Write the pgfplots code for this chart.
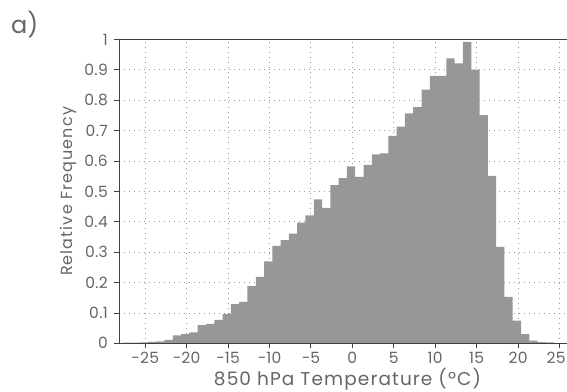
\documentclass[border=0pt]{standalone}
\usepackage{pgfplots}
\pgfplotsset{compat=1.18}
\usepackage{fontspec}
\setmainfont{Poppins}
\definecolor{bargray}{HTML}{979797}
\definecolor{txtgray}{HTML}{666666}
\definecolor{axgray}{HTML}{404040}
\definecolor{gridgray}{HTML}{9A9A9A}
\pgfplotstableread{
x y
-27.65 0.002
-26.65 0.002
-25.65 0.003
-24.65 0.005
-23.65 0.006
-22.65 0.011
-21.65 0.026
-20.65 0.030
-19.65 0.036
-18.65 0.060
-17.65 0.064
-16.65 0.077
-15.65 0.096
-14.65 0.129
-13.65 0.136
-12.65 0.188
-11.65 0.219
-10.65 0.270
-9.65 0.321
-8.65 0.340
-7.65 0.361
-6.65 0.397
-5.65 0.421
-4.65 0.474
-3.65 0.446
-2.65 0.521
-1.65 0.544
-0.65 0.582
0.35 0.548
1.35 0.587
2.35 0.622
3.35 0.625
4.35 0.683
5.35 0.713
6.35 0.757
7.35 0.777
8.35 0.835
9.35 0.880
10.35 0.880
11.35 0.938
12.35 0.921
13.35 0.992
14.35 0.901
15.35 0.751
16.35 0.551
17.35 0.317
18.35 0.153
19.35 0.075
20.35 0.030
21.35 0.009
22.35 0.004
23.35 0.003
24.35 0.003
}\histdata
\begin{document}
\begin{tikzpicture}
\useasboundingbox (-119pt,-47.7pt) rectangle (448pt,343.3pt);
\begin{axis}[
  at={(0,0)}, anchor=south west,
  width=448pt, height=303.8pt, scale only axis,
  xmin=-28.15, xmax=25.9, ymin=0, ymax=1,
  xtick={-25,-20,-15,-10,-5,0,5,10,15,20},
  xticklabels={−25,−20,−15,−10,−5,0,5,10,15,20},
  extra x ticks={25},
  extra x tick labels={25},
  extra x tick style={xticklabel style={xshift=-3.5pt}},
  ytick={0,0.1,0.2,0.3,0.4,0.5,0.6,0.7,0.8,0.9,1},
  yticklabels={0,0.1,0.2,0.3,0.4,0.5,0.6,0.7,0.8,0.9,1},
  tick pos=left,
  tick align=outside,
  major tick length=5pt,
  minor tick num=0,
  axis on top,
  axis line style={axgray, line width=0.9pt},
  every tick/.style={axgray, line width=0.8pt},
  grid=major,
  major grid style={gridgray, line width=0.8pt, dash pattern=on 0.8pt off 4.2pt},
  tick label style={font={\fontsize{15.5}{15.5}\selectfont\addfontfeatures{LetterSpace=2}}, text=txtgray},
  xticklabel style={anchor=base, inner sep=0pt, yshift=-15pt},
  yticklabel style={anchor=east, inner sep=0pt, xshift=-6pt},
  xlabel={850 hPa Temperature (ºC)},
  xlabel style={font={\fontsize{18.5}{18.5}\selectfont\addfontfeatures{LetterSpace=6}}, text=txtgray, at={(axis description cs:0.51,0)}, anchor=base, yshift=-42pt},
  ylabel={Relative Frequency},
  ylabel style={font={\fontsize{16}{16}\selectfont\addfontfeatures{LetterSpace=7}}, text=txtgray, at={(axis description cs:-0.112,0.5)}, anchor=center},
]
\addplot[ybar interval, fill=bargray, draw=none] table[x=x, y=y] {\histdata};
\end{axis}
\node[anchor=base west, font=\fontsize{24}{24}\selectfont, text=txtgray, inner sep=0pt] at (-108pt,310pt) {a)};
\end{tikzpicture}
\end{document}
